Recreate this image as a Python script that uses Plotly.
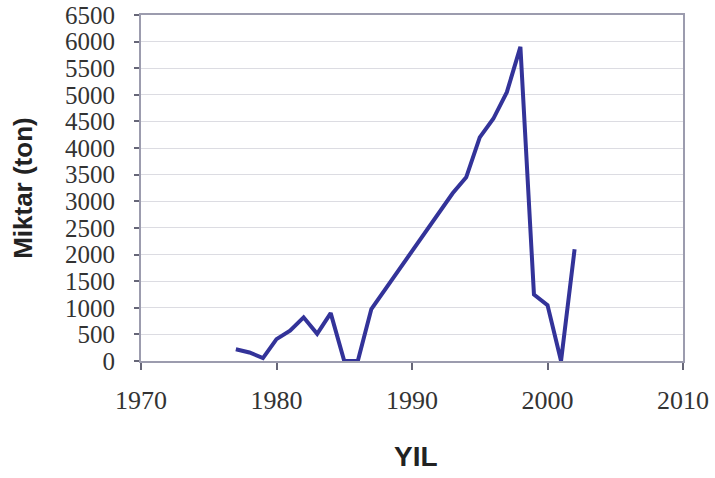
import plotly.graph_objects as go

years = list(range(1977, 2003))
miktar = [220, 160, 55, 410, 570, 820, 510, 900, 0, 0, 975, 1340, 1700, 2070,
          2440, 2800, 3150, 3450, 4200, 4550, 5050, 5900, 1250, 1050, 0, 2100]

x_ticks = [1970, 1980, 1990, 2000, 2010]
y_ticks = list(range(0, 6501, 500))

serif = "Liberation Serif, Times New Roman, serif"

fig = go.Figure()
fig.add_trace(go.Scatter(x=years, y=miktar, mode="lines",
                         line=dict(color="#333399", width=4),
                         showlegend=False))

frame = "#9c9cae"
fig.update_layout(
    width=715, height=478,
    margin=dict(l=141, r=32, t=15, b=117, autoexpand=False),
    paper_bgcolor="white", plot_bgcolor="white",
    xaxis=dict(range=[1970, 2010], tickvals=x_ticks, ticktext=[str(v) for v in x_ticks],
               showgrid=False, zeroline=False, automargin=False,
               showline=True, linecolor=frame, linewidth=2, mirror=True,
               ticks="outside", ticklen=7, tickcolor="#666677", tickwidth=1.5,
               ticklabelstandoff=8,
               tickfont=dict(family=serif, size=26, color="#333333")),
    yaxis=dict(range=[0, 6500], tickvals=y_ticks, ticktext=[str(v) for v in y_ticks],
               showgrid=True, gridcolor="#dcdce2", gridwidth=1, zeroline=False,
               automargin=False,
               showline=True, linecolor=frame, linewidth=2, mirror=True,
               ticks="outside", ticklen=5, tickcolor="#666677", tickwidth=1.5,
               ticklabelstandoff=14,
               tickfont=dict(family=serif, size=25, color="#333333")),
    annotations=[
        dict(text="<b>Miktar (ton)</b>", xref="paper", yref="paper",
             x=-0.218, y=0.5, textangle=-90, showarrow=False,
             xanchor="center", yanchor="middle",
             font=dict(family="Liberation Sans", size=26, color="#222222")),
        dict(text="<b>YIL</b>", xref="paper", yref="paper",
             x=0.507, y=-0.276, showarrow=False,
             xanchor="center", yanchor="middle",
             font=dict(family="Liberation Sans", size=28, color="#222222")),
    ],
)

fig.write_html("out.html",
               config={"displayModeBar": False},
               post_script="document.body.style.margin='0';document.body.style.overflow='hidden';")
